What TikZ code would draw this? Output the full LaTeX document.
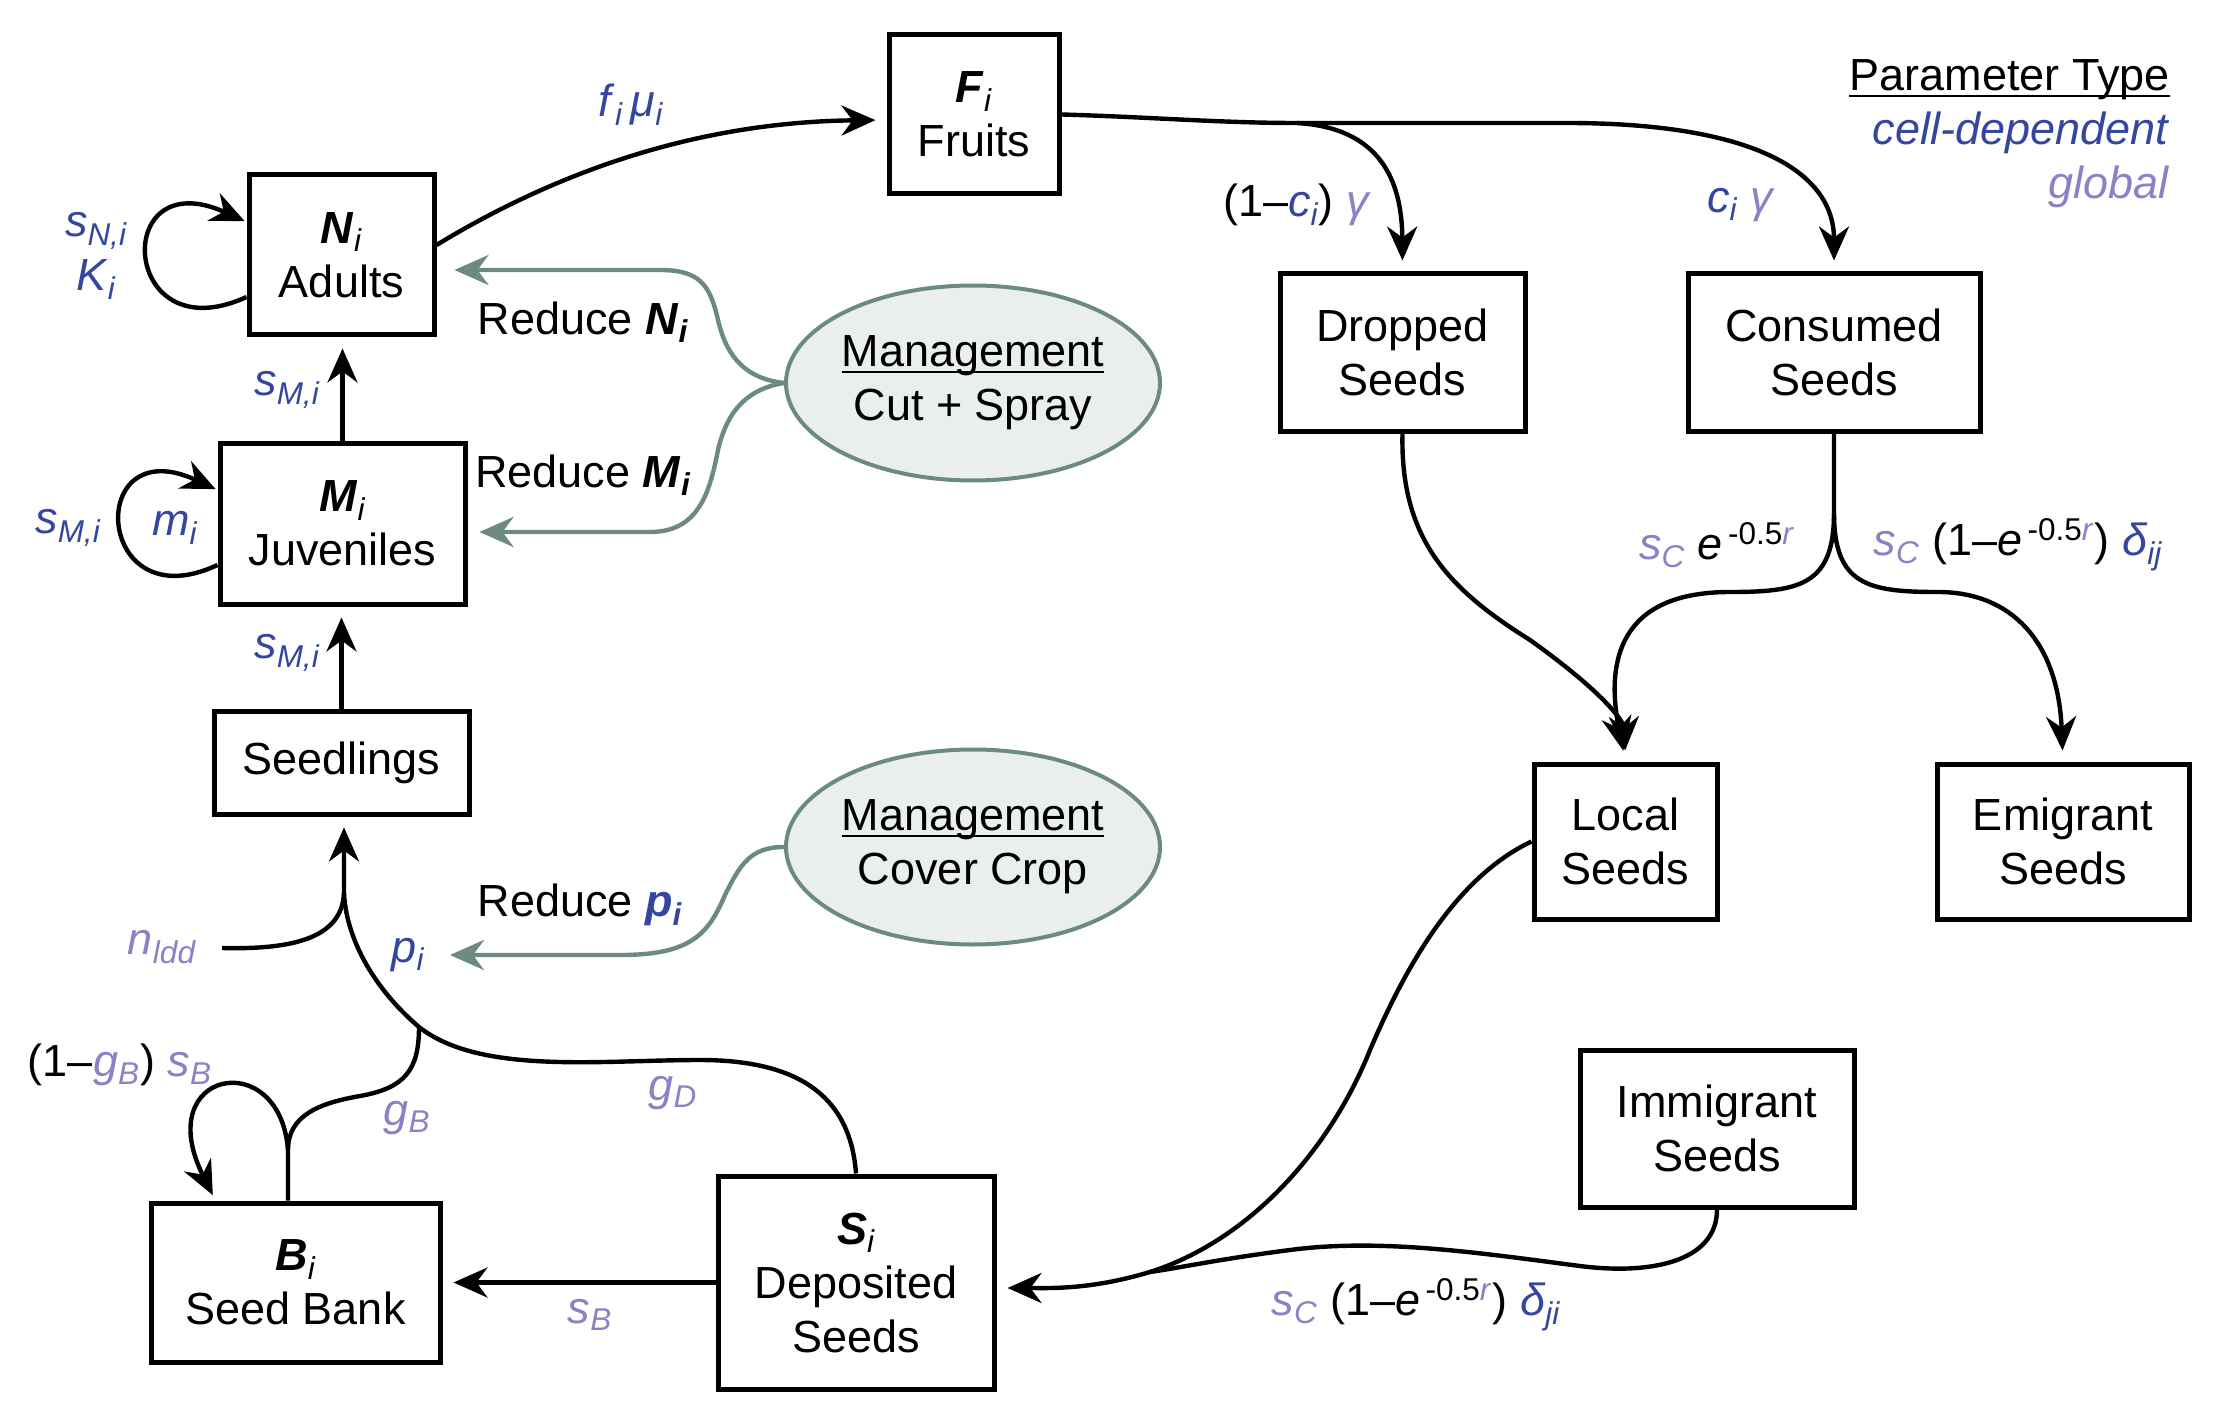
\documentclass[tikz,border=0pt]{standalone}
\usepackage{fontspec}
\setmainfont{Liberation Sans}
\usetikzlibrary{shapes.geometric,arrows.meta}
\definecolor{celldep}{RGB}{52,70,160}
\definecolor{globalc}{RGB}{138,130,196}
\definecolor{mgline}{RGB}{108,138,130}
\definecolor{mgfill}{RGB}{234,239,238}
\newcommand{\lsub}[1]{\textsubscript{\itshape #1}}
\newcommand{\cd}[1]{\textcolor{celldep}{#1}}
\newcommand{\gl}[1]{\textcolor{globalc}{#1}}
\newcommand{\myul}[1]{\setbox0\hbox{#1}\rlap{\vrule width\wd0 height -2pt depth 3.3pt}\box0}
\begin{document}
\begin{tikzpicture}[x=0.5pt,y=-0.5pt,
  every node/.style={font=\fontsize{22.5}{27}\selectfont},
  box/.style={draw,line width=2.5pt,align=center,inner sep=0pt},
  mgmt/.style={ellipse,draw=mgline,fill=mgfill,line width=2pt,align=center,inner sep=0pt,minimum width=187pt,minimum height=97.5pt},
  lab/.style={inner sep=0pt,align=center},
  arr/.style={line width=2.2pt,-{Stealth[length=17pt,width=15pt]},shorten >=5.5pt},
  ln/.style={line width=2.2pt},
  garr/.style={line width=2.2pt,draw=mgline,-{Stealth[length=17pt,width=15pt]}},
]
\fill[white] (0,0) rectangle (2217,1412);
\useasboundingbox (0,0) rectangle (2217,1412);

% boxes
\node[box,minimum width=92.5pt,minimum height=80pt] (N) at (341.5,255) {\textbf{\textit{N}}\lsub{i}\\Adults};
\node[box,minimum width=122.5pt,minimum height=80.5pt] (M) at (342.5,523.5) {\textbf{\textit{M}}\lsub{i}\\Juveniles};
\node[box,minimum width=127.5pt,minimum height=51.5pt] (Sd) at (341.5,762.5) {Seedlings};
\node[box,minimum width=85pt,minimum height=79.5pt] (F) at (974,114.5) {\textbf{\textit{F}}\lsub{i}\\Fruits};
\node[box,minimum width=122.5pt,minimum height=78.5pt] (D) at (1402.5,352.5) {Dropped\\Seeds};
\node[box,minimum width=146pt,minimum height=78.5pt] (C) at (1834,352.5) {Consumed\\Seeds};
\node[box,minimum width=91.5pt,minimum height=77.5pt] (L) at (1625.5,841.5) {Local\\Seeds};
\node[box,minimum width=126pt,minimum height=77.5pt] (E) at (2063,841.5) {Emigrant\\Seeds};
\node[box,minimum width=137pt,minimum height=78.5pt] (I) at (1717,1128.5) {Immigrant\\Seeds};
\node[box,minimum width=138pt,minimum height=106.5pt] (S) at (856,1282.5) {\textbf{\textit{S}}\lsub{i}\\Deposited\\Seeds};
\node[box,minimum width=144.5pt,minimum height=79.5pt] (B) at (295.5,1282.5) {\textbf{\textit{B}}\lsub{i}\\Seed Bank};

% management ellipses
\node[mgmt] (mcs) at (973,383) {\myul{Management}\\Cut + Spray};
\node[mgmt] (mcc) at (973,847) {\myul{Management}\\Cover Crop};

% legend
\node[lab,anchor=east,align=right] (leg) at (2170,134) {\myul{Parameter Type}\\\cd{\textit{cell-dependent}}\\\gl{\textit{global}}};

% self loops
\draw[arr,shorten >=1pt] ([yshift=-21pt]N.west) .. controls (120,355) and (110,160) .. ([yshift=16.5pt]N.west);
\draw[arr,shorten >=1pt] ([yshift=-20.75pt]M.west) .. controls (94,623) and (84,428) .. ([yshift=16.75pt]M.west);

% N -> F
\draw[arr] ([yshift=5pt]N.east) .. controls (560,170) and (700,122) .. ([yshift=-2.75pt]F.west);

% vertical arrows
\draw[arr] (M.north) -- (M.north |- N.south);
\draw[arr] (Sd.north) -- (Sd.north |- M.south);

% germination paths
\coordinate (jg) at (419,1027);
\coordinate (jn) at (344,893);
\draw[arr] (S.north) .. controls (850,1090) and (790,1060) .. (700,1060) .. controls (600,1060) and (480,1075) .. (jg) .. controls (370,985) and (346,935) .. (jn) -- (jn |- Sd.south);
\coordinate (nl) at (222,948);
\draw[ln] (nl) .. controls (300,950) and (342,935) .. (jn);
\coordinate (bl) at (288,1150);
\draw[ln] ([xshift=-3.75pt]B.north) -- (bl) .. controls (288,1115) and (320,1103) .. (360,1096) .. controls (405,1088) and (419,1070) .. (jg);
\draw[arr,shorten >=3pt] (bl) .. controls (280,1045) and (150,1070) .. ([xshift=-40pt]B.north);

% S -> B
\draw[arr] (S.west) -- (B.east);

% F -> Dropped / Consumed
\coordinate (fs) at (1297,123);
\draw[arr] (F.east) .. controls (1150,117) and (1220,123) .. (fs) .. controls (1400,123) and (1480,123) .. (1567,123) .. controls (1750,123) and (1834,170) .. (C.north);
\draw[arr] (fs) .. controls (1380,128) and (1402,180) .. (D.north);

% Dropped -> Local
\draw[arr] (D.south) .. controls (1400,540) and (1450,590) .. (1530,640) .. controls (1600,690) and (1624,720) .. (L.north);

% Consumed -> Local / Emigrant
\coordinate (cs) at (1834,513);
\draw[arr] (C.south) -- (cs) .. controls (1834,585) and (1800,592) .. (1730,592) .. controls (1620,592) and (1605,660) .. (L.north);
\draw[arr] (cs) .. controls (1834,585) and (1868,592) .. (1938,592) .. controls (2010,592) and (2058,640) .. (E.north);

% Local / Immigrant -> S
\coordinate (jm) at (1150,1272);
\draw[arr] (L.west) .. controls (1450,880) and (1400,980) .. (1370,1050) .. controls (1330,1150) and (1250,1240) .. (jm) .. controls (1090,1290) and (1050,1288) .. ([yshift=-2.75pt]S.east);
\draw[ln] (I.south) .. controls (1717,1262) and (1650,1275) .. (1580,1266) .. controls (1480,1253) and (1380,1238) .. (1290,1250) .. controls (1220,1259) and (1190,1266) .. (jm);

% management arrows
\draw[garr,shorten >=9pt] (mcs.west) .. controls (740,378) and (725,350) .. (718,320) .. controls (710,285) and (700,270) .. (660,270) -- ([yshift=-7.5pt]N.east);
\draw[garr,shorten >=6pt] (mcs.west) .. controls (740,390) and (725,420) .. (718,450) .. controls (710,490) and (700,532) .. (650,532) -- ([yshift=-4.25pt]M.east);
\coordinate (pe) at (450,955);
\draw[garr] (mcc.west) .. controls (750,847) and (740,865) .. (725,895) .. controls (708,935) and (690,955) .. (620,955) -- (pe);

% labels
\node[lab] (lfm) at (631,105) {\cd{\textit{f}\lsub{i}\,\textit{μ}\lsub{i}}};
\node[lab] (lsn) at (96,256) {\cd{\textit{s}\lsub{N,i}}\\\cd{\textit{K}\lsub{i}}};
\node[lab] (lsm1) at (287,390) {\cd{\textit{s}\lsub{M,i}}};
\node[lab] (lmi) at (175,528) {\cd{\textit{m}\lsub{i}}};
\node[lab] (lsm2) at (68,528) {\cd{\textit{s}\lsub{M,i}}};
\node[lab] (lsm3) at (287,653) {\cd{\textit{s}\lsub{M,i}}};
\node[lab] (lrn) at (583,322) {Reduce \textbf{\textit{N}\lsub{i}}};
\node[lab] (lrm) at (583,475) {Reduce \textbf{\textit{M}\lsub{i}}};
\node[lab] (lrp) at (580,905) {Reduce \cd{\textbf{\textit{p}\lsub{i}}}};
\node[lab] (lpi) at (408,955) {\cd{\textit{p}\lsub{i}}};
\node[lab] (lnl) at (162,947) {\gl{\textit{n}\lsub{ldd}}};
\node[lab] (lgsb) at (120,1065) {(1–\gl{\textit{g}\lsub{B}})\ \gl{\textit{s}\lsub{B}}};
\node[lab] (lgb) at (407,1118) {\gl{\textit{g}\lsub{B}}};
\node[lab] (lgd) at (673,1093) {\gl{\textit{g}\lsub{D}}};
\node[lab] (lsb) at (590,1315) {\gl{\textit{s}\lsub{B}}};
\node[lab] (lci1) at (1297,205) {(1–\cd{\textit{c}\lsub{i}})\ \gl{\textit{γ}}};
\node[lab] (lci2) at (1741,205) {\cd{\textit{c}\lsub{i}}\ \gl{\textit{γ}}};
\node[lab] (lse) at (1717,545) {\gl{\textit{s}\lsub{C}}\ \textit{e}\textsuperscript{\,-0.5\gl{\textit{r}}}};
\node[lab] (lsed) at (2018,545) {\gl{\textit{s}\lsub{C}}\ (1–\textit{e}\textsuperscript{\,-0.5\gl{\textit{r}}})\ \cd{\textit{δ}\lsub{ij}}};
\node[lab] (lsej) at (1416,1305) {\gl{\textit{s}\lsub{C}}\ (1–\textit{e}\textsuperscript{\,-0.5\gl{\textit{r}}})\ \cd{\textit{δ}\lsub{ji}}};
\end{tikzpicture}
\end{document}
